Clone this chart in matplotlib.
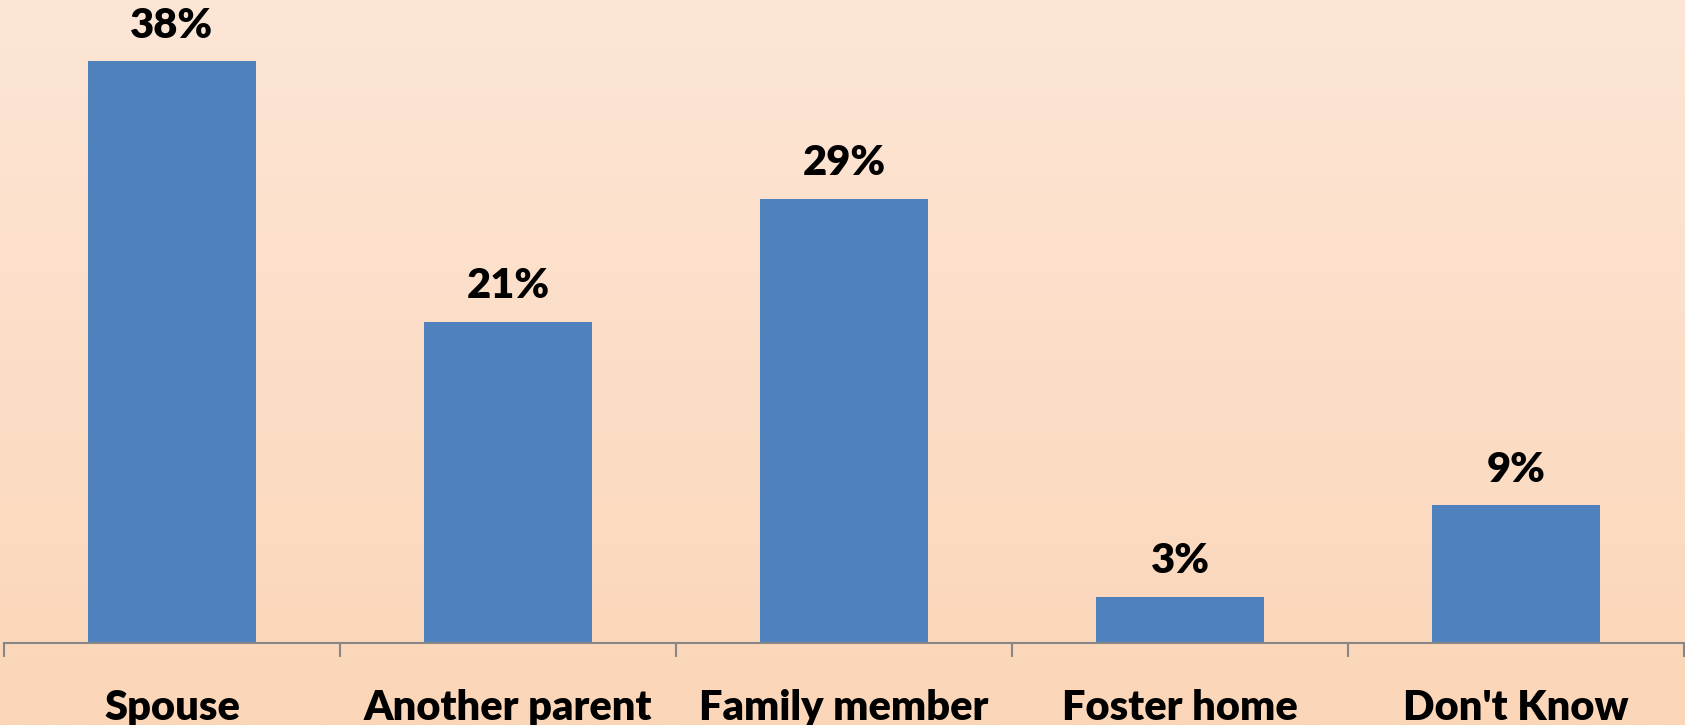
import matplotlib.pyplot as plt
import numpy as np

categories = ["Spouse", "Another parent", "Family member", "Foster home", "Don't Know"]
values = [38, 21, 29, 3, 9]
labels = ["38%", "21%", "29%", "3%", "9%"]

plt.rcParams['font.family'] = ['Lato', 'DejaVu Sans']

fig = plt.figure(figsize=(16.85, 7.25), dpi=100)

# peach vertical gradient behind everything
bg = fig.add_axes([0, 0, 1, 1], zorder=0)
top = np.array([253, 230, 214]) / 255
bottom = np.array([251, 214, 184]) / 255
t = np.linspace(0, 1, 256)[:, None]
grad = top * (1 - t[..., None]) + bottom * t[..., None]
bg.imshow(grad, aspect='auto', extent=[0, 1, 0, 1])
bg.axis('off')

ax = fig.add_axes([4 / 1685, 82 / 725, 1680 / 1685, 643 / 725], zorder=1)
ax.patch.set_alpha(0)
x = np.arange(len(categories))
bars = ax.bar(x, values, width=0.5, color='#4F81BD')
ax.set_xlim(-0.5, len(categories) - 0.5)
ax.set_ylim(0, 42)

for b, lab in zip(bars, labels):
    ax.annotate(lab, (b.get_x() + b.get_width() / 2, b.get_height()),
                xytext=(0, 12), textcoords='offset points',
                ha='center', va='bottom', fontsize=30, fontweight='heavy')

for s in ['top', 'right', 'left']:
    ax.spines[s].set_visible(False)
ax.spines['bottom'].set_color('#878787')
ax.spines['bottom'].set_linewidth(1.5)
ax.set_yticks([])
ax.set_xticks(np.arange(len(categories) + 1) - 0.5)
ax.set_xticklabels([])
ax.tick_params(axis='x', which='major', length=10, width=1.5, color='#878787')
ax.set_xticks(x, minor=True)
ax.set_xticklabels(categories, minor=True, fontsize=30, fontweight='heavy')
ax.tick_params(axis='x', which='minor', length=0, pad=33)

fig.savefig('out.png', dpi=100)
